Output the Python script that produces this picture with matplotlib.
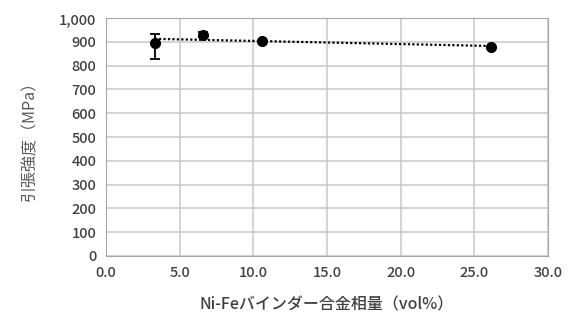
import matplotlib.pyplot as plt
import numpy as np

plt.rcParams['font.family'] = ['Noto Sans CJK JP', 'DejaVu Sans']

# Data
binder = [3.3, 6.6, 10.6, 26.1]          # vol%
strength = [895, 930, 903, 880]           # MPa
err_low = [65, 10, 0, 0]
err_high = [38, 10, 0, 0]
xticks = [0, 5, 10, 15, 20, 25, 30]
yticks = list(range(0, 1001, 100))

txt = '#404040'
fig = plt.figure(figsize=(5.75, 3.24), dpi=100)
ax = fig.add_axes([0.1843, 0.210, 0.7687, 0.734])

ax.errorbar(binder, strength, yerr=[err_low, err_high], fmt='o', color='black',
            ms=7, capsize=3.5, elinewidth=1.3, capthick=1.3, zorder=3)

# linear trend line
k, b = np.polyfit(binder, strength, 1)
xs = np.array([min(binder), max(binder)])
ax.plot(xs, k * xs + b, color='black', ls=(0, (1, 1)), lw=1.6, zorder=2)

ax.set_xlim(0, 30)
ax.set_ylim(0, 1000)
ax.set_xticks(xticks)
ax.set_xticklabels([f'{v:.1f}' for v in xticks])
ax.set_yticks(yticks)
ax.set_yticklabels([f'{v:,}' for v in yticks])
ax.grid(True, color='#c8c8c8', lw=1.1)
ax.set_axisbelow(True)
for s in ax.spines.values():
    s.set_color('#a6a6a6')
ax.tick_params(length=0, labelsize=10.5, colors=txt, pad=7)
for lab in ax.get_xticklabels() + ax.get_yticklabels():
    lab.set_fontweight('medium')

ax.set_xlabel('Ni-Feバインダー合金相量（vol%）', fontsize=11.5, color=txt,
              labelpad=12, fontweight='medium')
ax.set_ylabel('引張強度（MPa）', fontsize=11.5, color='#595959', labelpad=15)

fig.savefig('out.png', dpi=100)
